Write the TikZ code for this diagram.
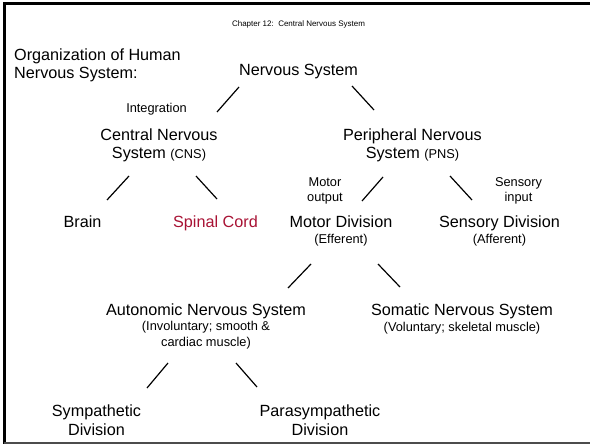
\documentclass[tikz,border=0pt]{standalone}
\usepackage{fontspec}
\setmainfont{Liberation Sans}
\definecolor{cordred}{RGB}{168,18,52}
\newcommand\smallfnt{\fontsize{12.8}{15}\selectfont}

\begin{document}
\begin{tikzpicture}[x=1pt, y=-1pt]

\tikzset{
  lvl/.style={anchor=base, align=center, inner sep=0pt, font=\fontsize{16.2}{19}\selectfont},
  note/.style={anchor=base, align=center, inner sep=0pt, font=\smallfnt},
  brn/.style={line width=1.2pt}
}

% --- Moldura ---
\useasboundingbox (0,0) rectangle (590,444);
\draw[line width=3pt] (4.2,444) -- (4.2,3.5) -- (590,3.5);
\draw[line width=1.5pt, black!70] (4.2,442.8) -- (590,442.8);

% --- Titulos (base = linha de baixo) ---
\node[anchor=base, inner sep=0pt, font=\fontsize{8}{10}\selectfont] (title) at (298.5,26.7) {Chapter 12:\ \ Central Nervous System};
\node[lvl, anchor=base west, align=left, font=\fontsize{16.2}{17.4}\selectfont] (org) at (14,78.3) {Organization of Human\\Nervous System:};

% --- Nivel 0 e 1 ---
\node[lvl] (ns) at (298.5,76) {Nervous System};
\node[note] (integ) at (156.5,113) {Integration};
\node[lvl] (cns) at (159,159) {Central Nervous\\System {\smallfnt (CNS)}};
\node[lvl] (pns) at (412.5,159) {Peripheral Nervous\\System {\smallfnt (PNS)}};

% --- Nivel 2 ---
\node[lvl] (brain) at (82.5,227.5) {Brain};
\node[lvl, text=cordred] (spinal) at (215.5,227.5) {Spinal Cord};
\node[note] (motout) at (325,201.7) {Motor\\output};
\node[note] (sensin) at (518.5,201.7) {Sensory\\input};
\node[lvl, font=\fontsize{16.2}{15.5}\selectfont] (motor) at (341,243) {Motor Division\\{\smallfnt (Efferent)}};
\node[lvl, font=\fontsize{16.2}{15.5}\selectfont] (sens) at (499.5,243) {Sensory Division\\{\smallfnt (Afferent)}};

% --- Nivel 3 ---
\node[lvl, font=\fontsize{16.2}{15.5}\selectfont] (auto) at (206,346) {Autonomic Nervous System\\{\smallfnt (Involuntary; smooth \&}\\{\smallfnt cardiac muscle)}};
\node[lvl, font=\fontsize{16.2}{16}\selectfont] (soma) at (462,331) {Somatic Nervous System\\{\smallfnt (Voluntary; skeletal muscle)}};

% --- Nivel 4 ---
\node[lvl] (symp) at (96.5,435.5) {Sympathetic\\Division};
\node[lvl] (para) at (320,435.5) {Parasympathetic\\Division};

% --- Pontas dos ramos ---
\coordinate (nsL) at (239,87);   \coordinate (cnsT) at (217,112);
\coordinate (nsR) at (352,86);   \coordinate (pnsT) at (374,110);
\coordinate (cnsL) at (129,176); \coordinate (brainT) at (107,200);
\coordinate (cnsR) at (196,176); \coordinate (spinalT) at (217,199);
\coordinate (pnsL) at (383,177); \coordinate (motorT) at (362,201);
\coordinate (pnsR) at (450,176); \coordinate (sensT) at (472,200);
\coordinate (motorL) at (311,264); \coordinate (autoT) at (288,288);
\coordinate (motorR) at (378,264); \coordinate (somaT) at (400,287);
\coordinate (autoL) at (168,363); \coordinate (sympT) at (147,388);
\coordinate (autoR) at (236,363); \coordinate (paraT) at (257,387);

% --- Ramos ---
\draw[brn] (nsL) -- (cnsT);
\draw[brn] (nsR) -- (pnsT);

\draw[brn] (cnsL) -- (brainT);
\draw[brn] (cnsR) -- (spinalT);

\draw[brn] (pnsL) -- (motorT);
\draw[brn] (pnsR) -- (sensT);

\draw[brn] (motorL) -- (autoT);
\draw[brn] (motorR) -- (somaT);

\draw[brn] (autoL) -- (sympT);
\draw[brn] (autoR) -- (paraT);

\end{tikzpicture}
\end{document}
